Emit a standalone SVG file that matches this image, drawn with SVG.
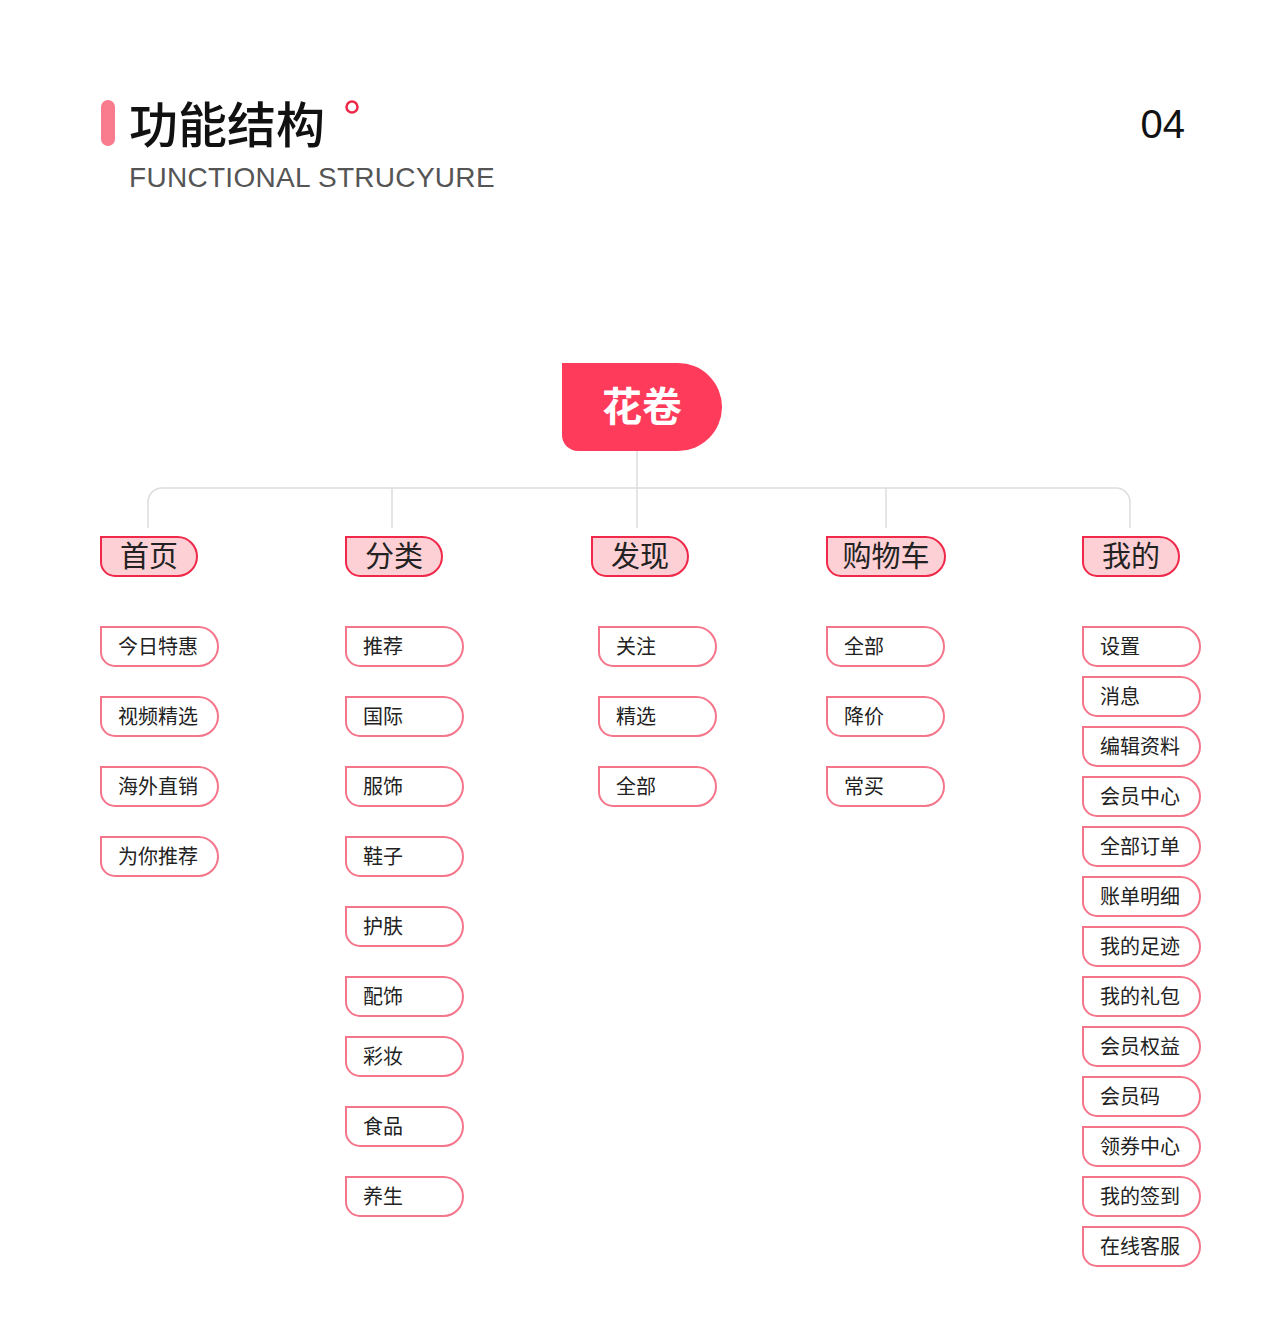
<svg xmlns="http://www.w3.org/2000/svg" xmlns:xlink="http://www.w3.org/1999/xlink" width="1280" height="1343" viewBox="0 0 1280 1343">
<style>
.leaf{fill:#fff;stroke:#f5758a;stroke-width:2}
.cat{fill:#fcd0d4;stroke:#f0284a;stroke-width:2}
.lt{font-family:"Noto Sans CJK SC",sans-serif;font-size:20px;fill:#222}
.ct{font-family:"Noto Sans CJK SC",sans-serif;font-size:29px;fill:#222;text-anchor:middle}
.con{fill:none;stroke:#ddd;stroke-width:1.5}
</style>
<defs>
<path id="lf" d="M0,0 H97.5 A19.5,19.5 0 0 1 97.5,39 H14 A14,14 0 0 1 0,25 Z"/>
<path id="ct" d="M0,0 H76.5 A19.5,19.5 0 0 1 76.5,39 H14 A14,14 0 0 1 0,25 Z"/>
<path id="ctw" d="M0,0 H98.5 A19.5,19.5 0 0 1 98.5,39 H14 A14,14 0 0 1 0,25 Z"/>
</defs>
<rect width="1280" height="1343" fill="#fff"/>
<g id="header">
<rect x="101" y="100" width="14" height="46" rx="7" fill="#f87b8e"/>
<text x="129" y="143" font-family="Noto Sans CJK SC,sans-serif" font-size="49" font-weight="500" fill="#111">功能结构</text>
<circle cx="352" cy="107" r="5.5" fill="none" stroke="#f0284a" stroke-width="2.5"/>
<text x="129" y="187" font-family="Liberation Sans,Arial,sans-serif" font-size="28" letter-spacing="0.3" fill="#555">FUNCTIONAL STRUCYURE</text>
<text x="1185" y="138" text-anchor="end" font-family="Liberation Sans,Arial,sans-serif" font-size="40" fill="#111">04</text>
</g>
<g id="connectors" class="con">
<path d="M637,451 V528"/>
<path d="M148,528 V502 A14,14 0 0 1 162,488 H1116 A14,14 0 0 1 1130,502 V528"/>
<path d="M392,488 V528"/>
<path d="M886,488 V528"/>
</g>
<g id="root">
<path d="M562,363 H678 A44,44 0 0 1 678,451 H578 A16,16 0 0 1 562,435 Z" fill="#ff3b5c"/>
<text x="642" y="421" text-anchor="middle" font-family="Noto Sans CJK SC,sans-serif" font-size="40" font-weight="bold" fill="#fff">花卷</text>
</g>
<g id="cat1"><use xlink:href="#ct" class="cat" x="101" y="537"/><text class="ct" x="149" y="567">首页</text></g>
<g id="cat2"><use xlink:href="#ct" class="cat" x="346" y="537"/><text class="ct" x="394" y="567">分类</text></g>
<g id="cat3"><use xlink:href="#ct" class="cat" x="592" y="537"/><text class="ct" x="640" y="567">发现</text></g>
<g id="cat4"><use xlink:href="#ctw" class="cat" x="827" y="537"/><text class="ct" x="886" y="567">购物车</text></g>
<g id="cat5"><use xlink:href="#ct" class="cat" x="1083" y="537"/><text class="ct" x="1131" y="567">我的</text></g>

<g id="c1a"><use xlink:href="#lf" class="leaf" x="101" y="627"/><text class="lt" x="118" y="654">今日特惠</text></g>
<g id="c1b"><use xlink:href="#lf" class="leaf" x="101" y="697"/><text class="lt" x="118" y="724">视频精选</text></g>
<g id="c1c"><use xlink:href="#lf" class="leaf" x="101" y="767"/><text class="lt" x="118" y="794">海外直销</text></g>
<g id="c1d"><use xlink:href="#lf" class="leaf" x="101" y="837"/><text class="lt" x="118" y="864">为你推荐</text></g>

<g id="c2a"><use xlink:href="#lf" class="leaf" x="346" y="627"/><text class="lt" x="363" y="654">推荐</text></g>
<g id="c2b"><use xlink:href="#lf" class="leaf" x="346" y="697"/><text class="lt" x="363" y="724">国际</text></g>
<g id="c2c"><use xlink:href="#lf" class="leaf" x="346" y="767"/><text class="lt" x="363" y="794">服饰</text></g>
<g id="c2d"><use xlink:href="#lf" class="leaf" x="346" y="837"/><text class="lt" x="363" y="864">鞋子</text></g>
<g id="c2e"><use xlink:href="#lf" class="leaf" x="346" y="907"/><text class="lt" x="363" y="934">护肤</text></g>
<g id="c2f"><use xlink:href="#lf" class="leaf" x="346" y="977"/><text class="lt" x="363" y="1004">配饰</text></g>
<g id="c2g"><use xlink:href="#lf" class="leaf" x="346" y="1037"/><text class="lt" x="363" y="1064">彩妆</text></g>
<g id="c2h"><use xlink:href="#lf" class="leaf" x="346" y="1107"/><text class="lt" x="363" y="1134">食品</text></g>
<g id="c2i"><use xlink:href="#lf" class="leaf" x="346" y="1177"/><text class="lt" x="363" y="1204">养生</text></g>

<g id="c3a"><use xlink:href="#lf" class="leaf" x="599" y="627"/><text class="lt" x="616" y="654">关注</text></g>
<g id="c3b"><use xlink:href="#lf" class="leaf" x="599" y="697"/><text class="lt" x="616" y="724">精选</text></g>
<g id="c3c"><use xlink:href="#lf" class="leaf" x="599" y="767"/><text class="lt" x="616" y="794">全部</text></g>

<g id="c4a"><use xlink:href="#lf" class="leaf" x="827" y="627"/><text class="lt" x="844" y="654">全部</text></g>
<g id="c4b"><use xlink:href="#lf" class="leaf" x="827" y="697"/><text class="lt" x="844" y="724">降价</text></g>
<g id="c4c"><use xlink:href="#lf" class="leaf" x="827" y="767"/><text class="lt" x="844" y="794">常买</text></g>

<g id="c5a"><use xlink:href="#lf" class="leaf" x="1083" y="627"/><text class="lt" x="1100" y="654">设置</text></g>
<g id="c5b"><use xlink:href="#lf" class="leaf" x="1083" y="677"/><text class="lt" x="1100" y="704">消息</text></g>
<g id="c5c"><use xlink:href="#lf" class="leaf" x="1083" y="727"/><text class="lt" x="1100" y="754">编辑资料</text></g>
<g id="c5d"><use xlink:href="#lf" class="leaf" x="1083" y="777"/><text class="lt" x="1100" y="804">会员中心</text></g>
<g id="c5e"><use xlink:href="#lf" class="leaf" x="1083" y="827"/><text class="lt" x="1100" y="854">全部订单</text></g>
<g id="c5f"><use xlink:href="#lf" class="leaf" x="1083" y="877"/><text class="lt" x="1100" y="904">账单明细</text></g>
<g id="c5g"><use xlink:href="#lf" class="leaf" x="1083" y="927"/><text class="lt" x="1100" y="954">我的足迹</text></g>
<g id="c5h"><use xlink:href="#lf" class="leaf" x="1083" y="977"/><text class="lt" x="1100" y="1004">我的礼包</text></g>
<g id="c5i"><use xlink:href="#lf" class="leaf" x="1083" y="1027"/><text class="lt" x="1100" y="1054">会员权益</text></g>
<g id="c5j"><use xlink:href="#lf" class="leaf" x="1083" y="1077"/><text class="lt" x="1100" y="1104">会员码</text></g>
<g id="c5k"><use xlink:href="#lf" class="leaf" x="1083" y="1127"/><text class="lt" x="1100" y="1154">领券中心</text></g>
<g id="c5l"><use xlink:href="#lf" class="leaf" x="1083" y="1177"/><text class="lt" x="1100" y="1204">我的签到</text></g>
<g id="c5m"><use xlink:href="#lf" class="leaf" x="1083" y="1227"/><text class="lt" x="1100" y="1254">在线客服</text></g>
</svg>
